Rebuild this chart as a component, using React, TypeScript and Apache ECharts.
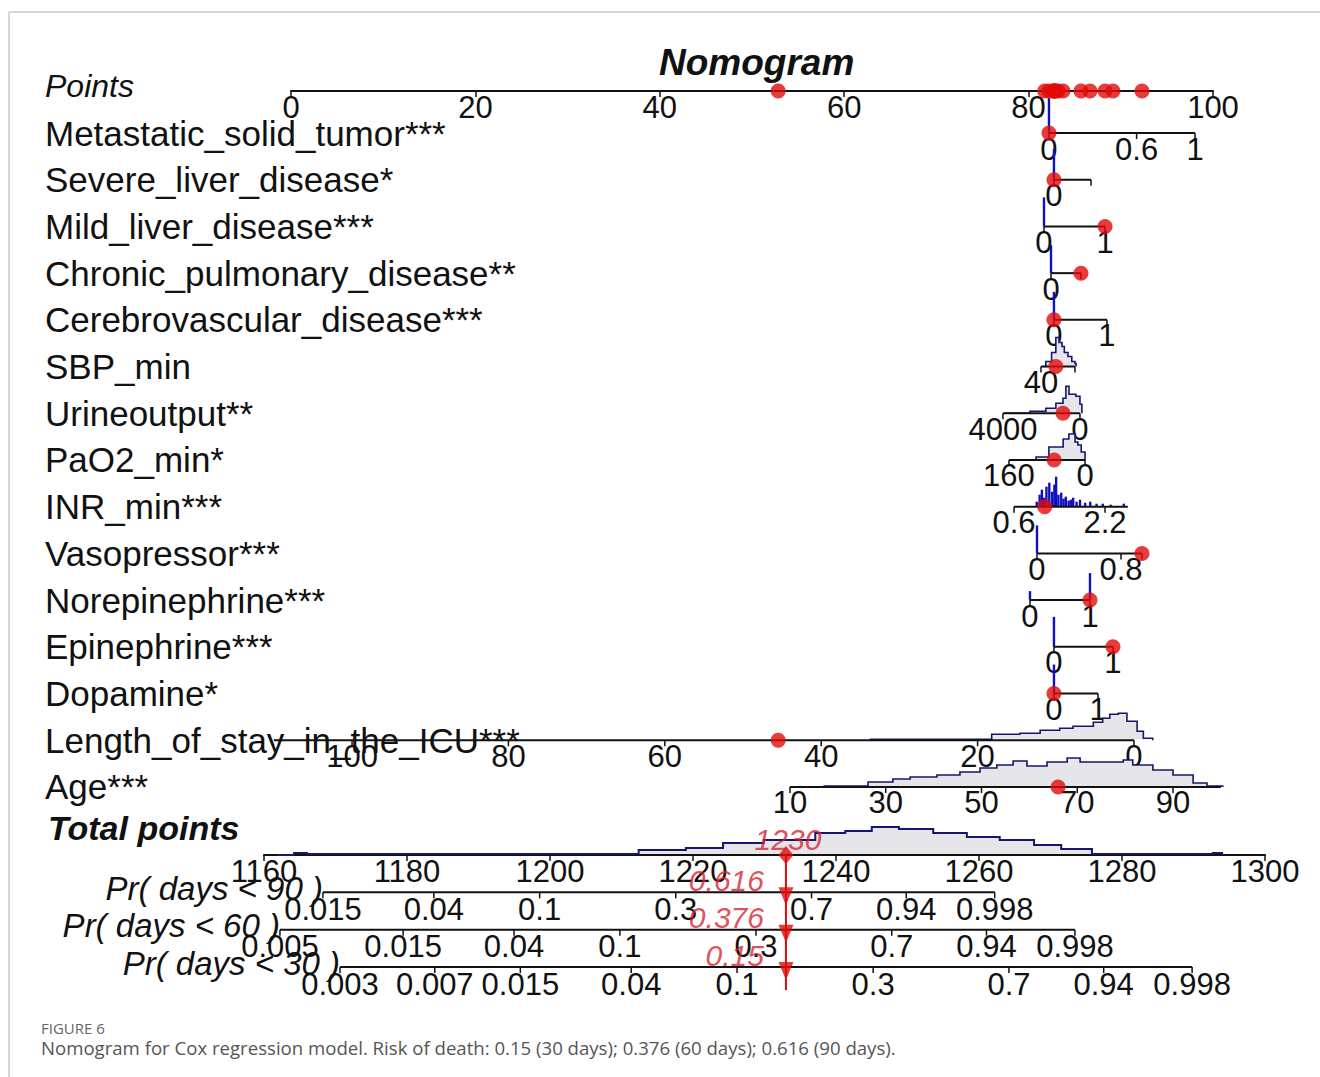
import React, { useEffect, useRef } from "react";
import * as echarts from "echarts";

const FONT = '"Liberation Sans", Arial, Helvetica, sans-serif';
const CAPTION_FONT = '"Open Sans", "Noto Sans", sans-serif';

// ---------------- Data ----------------
const variableLabels = [
  "Metastatic_solid_tumor***",
  "Severe_liver_disease*",
  "Mild_liver_disease***",
  "Chronic_pulmonary_disease**",
  "Cerebrovascular_disease***",
  "SBP_min",
  "Urineoutput**",
  "PaO2_min*",
  "INR_min***",
  "Vasopressor***",
  "Norepinephrine***",
  "Epinephrine***",
  "Dopamine*",
  "Length_of_stay_in_the_ICU***",
  "Age***",
];

// two anchor values for every predictor and the points each one scores
const anchorValueA = [0, 0, 0, 0, 0, 40, 4000, 160, 0.6, 0, 0, 0, 0, 0, 10];
const anchorPointsA = [82.21, 82.75, 81.67, 82.43, 82.75, 81.34, 77.22, 77.87, 78.42, 80.91, 80.15, 82.75, 82.75, 91.43, 54.12];
const anchorValueB = [1, 1, 1, 1, 1, 200, 0, 0, 2.2, 1, 1, 1, 1, 100, 90];
const anchorPointsB = [98.05, 86.77, 88.29, 85.68, 88.5, 85.03, 85.57, 86.12, 88.29, 92.3, 86.66, 89.15, 87.53, 6.62, 95.66];

const valueRangeMin = [0, 0, 0, 0, 0, 40, 0, 0, 0.6, 0, 0, 0, 0, 0, 10];
const valueRangeMax = [1, 1, 1, 1, 1, 200, 4000, 160, 2.6, 1, 1, 1, 1, 110, 100];

const tickValues = [
  [0, 0.6, 1], [0, 1], [0, 1], [0, 1], [0, 1], [40, 200], [4000, 0], [160, 0],
  [0.6, 2.2], [0, 0.8, 1], [0, 1], [0, 1], [0, 1], [100, 80, 60, 40, 20, 0], [10, 30, 50, 70, 90],
];
const tickLabels = [
  ["0", "0.6", "1"], ["0", ""], ["0", "1"], ["0", ""], ["0", "1"], ["40", ""], ["4000", "0"], ["160", "0"],
  ["0.6", "2.2"], ["0", "0.8", ""], ["0", "1"], ["0", "1"], ["0", "1"],
  ["100", "80", "60", "40", "20", "0"], ["10", "30", "50", "70", "90"],
];

// the patient shown by the red dots
const patientValues = [0, 0, 1, 1, 0, 110, 880, 65, 1.14, 1, 1, 1, 0, 45.5, 66];

// distribution of each predictor: [value, relative frequency]
const spikeDensity: Record<number, number[][]> = {
  0: [[0, 35]],
  1: [[0, 31]],
  2: [[0, 29]],
  3: [[0, 28]],
  4: [[0, 28]],
  8: [
    [1.0, 5], [1.05, 12], [1.09, 17], [1.13, 9], [1.17, 20], [1.22, 24], [1.27, 15], [1.31, 22],
    [1.34, 30], [1.38, 12], [1.43, 14], [1.47, 8], [1.51, 10], [1.56, 6], [1.6, 7], [1.64, 9],
    [1.7, 5], [1.76, 7], [1.85, 4], [1.94, 5], [2.05, 3], [2.16, 3], [2.3, 2], [2.53, 3],
  ],
  9: [[0, 28]],
  10: [[0, 9], [1, 27]],
  11: [[0, 30]],
  12: [[0, 29]],
};
const areaDensity: Record<number, number[][]> = {
  5: [[52, 0], [63, 5], [90, 14], [110, 29], [125, 24], [139, 20], [150, 14], [167, 10], [185, 5], [200, 3], [205, 0]],
  6: [[3900, 0], [2600, 2], [1770, 5], [1250, 10], [880, 15], [730, 27], [570, 19], [210, 17], [0, 9], [-100, 0]],
  7: [[154, 0], [103, 3], [76, 13], [46, 21], [34, 26], [21, 18], [15, 15], [8, 8], [0, 0]],
  13: [
    [33.8, 1], [18.2, 6], [14.6, 7], [12, 10], [9.5, 12], [7.8, 14], [5.2, 18], [4, 22], [3.1, 26],
    [2, 27], [0.9, 19], [-0.4, 9], [-1.2, 2], [-2.4, 0],
  ],
  14: [
    [17, 1], [26.3, 5], [31.5, 8], [35.1, 10], [40.7, 12], [45.5, 15], [49.7, 19], [53.2, 22], [56.6, 26],
    [59.5, 21], [63.7, 25], [67.9, 29], [70.6, 25], [74.8, 25], [79.6, 27], [81.6, 22], [85.8, 17],
    [90, 12], [94.2, 4], [97.1, 1], [100.4, 0],
  ],
};
const totalPointsDensity = [
  [1162, 0], [1164.2, 2], [1166, 1], [1171.7, 1], [1212.4, 5], [1219, 7], [1224.2, 12], [1229.9, 15],
  [1237.1, 22], [1241.3, 24], [1245, 28], [1248.8, 26], [1253.6, 22], [1258.3, 18], [1262.9, 15],
  [1267.7, 10], [1271.5, 6], [1275.8, 1], [1290.5, 1], [1292.7, 2], [1294, 0],
];

// survival probability scales: Pr(death before day N)
const prHorizons = ["90", "60", "30"];
const prTicks = [
  [0.015, 0.04, 0.1, 0.3, 0.7, 0.94, 0.998],
  [0.005, 0.015, 0.04, 0.1, 0.3, 0.7, 0.94, 0.998],
  [0.003, 0.007, 0.015, 0.04, 0.1, 0.3, 0.7, 0.94, 0.998],
];
const prCenterPoints = [1233.68, 1244.9, 1261.29]; // total points where log(-log(1-p)) = 0
const prPointsPerUnit = 15.61;

const patientTotalPoints = 1233;
const patientRisks = [0.616, 0.376, 0.15];

// ---------------- Helpers ----------------
const toPoints = (i: number, v: number) =>
  anchorPointsA[i] + ((v - anchorValueA[i]) * (anchorPointsB[i] - anchorPointsA[i])) / (anchorValueB[i] - anchorValueA[i]);
const prToTotal = (k: number, p: number) => prCenterPoints[k] + prPointsPerUnit * Math.log(-Math.log(1 - p));

const stairs = (d: number[][]) => {
  const out: number[][] = [];
  for (let k = 0; k < d.length; k++) {
    out.push([d[k][0], d[k][1]]);
    if (k < d.length - 1) out.push([d[k + 1][0], d[k][1]]);
  }
  return out;
};

const INK = "#111";
const RED = "#e20a0a";
const RED_TEXT = "rgba(214,36,48,0.8)";
const DENS_FILL = "#e6e6ea";
const DENS_LINE = "#16166e";
const SPIKE = "#1010c0";
const TICK_LEN = 6;
const LABEL_DY = 16;
const TICK_FONT = 31;

function buildOption() {
  const rowsRender = (params: any, api: any) => {
    const i = params.dataIndex;
    const row = i + 1;
    const P = (v: number, dy = 0) => {
      const c = api.coord([toPoints(i, v), row]);
      return [c[0], c[1] - dy];
    };
    const children: any[] = [];
    const area = areaDensity[i];
    if (area) {
      const st = stairs(area);
      const top = st.map(([v, h]) => P(v, h));
      const poly = [P(area[0][0], 1), ...top, P(area[area.length - 1][0], 1)];
      children.push({ type: "polygon", shape: { points: poly }, style: { fill: DENS_FILL } });
      children.push({ type: "polyline", shape: { points: top }, style: { stroke: DENS_LINE, lineWidth: 1.6, fill: "none" } });
    }
    const spikes = spikeDensity[i];
    if (spikes) {
      spikes.forEach(([v, h]) => {
        const a = P(v, 0);
        const b = P(v, h);
        children.push({ type: "line", shape: { x1: a[0], y1: a[1], x2: b[0], y2: b[1] }, style: { stroke: SPIKE, lineWidth: 2.4 } });
      });
    }
    const s = P(valueRangeMin[i]);
    const e = P(valueRangeMax[i]);
    children.push({ type: "line", shape: { x1: s[0], y1: s[1], x2: e[0], y2: e[1] }, style: { stroke: INK, lineWidth: 2 } });
    tickValues[i].forEach((v, k) => {
      const a = P(v);
      children.push({ type: "line", shape: { x1: a[0], y1: a[1], x2: a[0], y2: a[1] + TICK_LEN }, style: { stroke: INK, lineWidth: 1.5 } });
      const lab = tickLabels[i][k];
      if (lab) {
        children.push({
          type: "text",
          x: a[0],
          y: a[1] + LABEL_DY,
          style: { text: lab, fill: INK, fontSize: TICK_FONT, fontFamily: FONT, align: "center", verticalAlign: "middle" },
        });
      }
    });
    return { type: "group", children };
  };

  const prRender = (params: any, api: any) => {
    const k = params.dataIndex;
    const row = k + 1;
    const ticks = prTicks[k];
    const P = (p: number) => api.coord([prToTotal(k, p), row]);
    const children: any[] = [];
    const s = P(ticks[0]);
    const e = P(ticks[ticks.length - 1]);
    children.push({ type: "line", shape: { x1: s[0], y1: s[1], x2: e[0], y2: e[1] }, style: { stroke: INK, lineWidth: 2 } });
    ticks.forEach((p) => {
      const a = P(p);
      children.push({ type: "line", shape: { x1: a[0], y1: a[1], x2: a[0], y2: a[1] + TICK_LEN }, style: { stroke: INK, lineWidth: 1.5 } });
      children.push({
        type: "text",
        x: a[0],
        y: a[1] + LABEL_DY + 1,
        style: { text: String(p), fill: INK, fontSize: TICK_FONT, fontFamily: FONT, align: "center", verticalAlign: "middle" },
      });
    });
    children.push({
      type: "text",
      x: s[0],
      y: s[1] - 4,
      style: {
        text: "Pr( days < " + prHorizons[k] + " )",
        fill: INK,
        fontSize: 33,
        fontStyle: "italic",
        fontFamily: FONT,
        align: "right",
        verticalAlign: "middle",
      },
    });
    return { type: "group", children };
  };

  const totalDensityRender = (params: any, api: any) => {
    const P = (v: number, dy = 0) => {
      const c = api.coord([v, 0]);
      return [c[0], c[1] - dy];
    };
    const d = totalPointsDensity;
    const top = stairs(d).map(([v, h]) => P(v, h));
    const poly = [P(d[0][0], 1), ...top, P(d[d.length - 1][0], 1)];
    return {
      type: "group",
      children: [
        { type: "polygon", shape: { points: poly }, style: { fill: DENS_FILL } },
        { type: "polyline", shape: { points: top }, style: { stroke: DENS_LINE, lineWidth: 2, fill: "none" } },
      ],
    };
  };

  const redTextRender = (params: any, api: any) => {
    const children: any[] = [];
    const t = api.coord([patientTotalPoints, 0]);
    children.push({
      type: "text",
      x: t[0] + 2,
      y: t[1] - 16,
      style: {
        text: String(Number(patientTotalPoints.toPrecision(3))),
        fill: RED_TEXT,
        fontSize: 30,
        fontStyle: "italic",
        fontFamily: FONT,
        align: "center",
        verticalAlign: "middle",
      },
    });
    patientRisks.forEach((r, k) => {
      const c = api.coord([patientTotalPoints, k + 1]);
      children.push({
        type: "text",
        x: c[0] - 22,
        y: c[1] - 12,
        style: { text: String(r), fill: RED_TEXT, fontSize: 30, fontStyle: "italic", fontFamily: FONT, align: "right", verticalAlign: "middle" },
      });
    });
    return { type: "group", children };
  };

  const axisCommon = {
    type: "value" as const,
    position: "top" as const,
    axisLine: { onZero: false, lineStyle: { color: INK, width: 2 } },
    axisTick: { inside: true, length: TICK_LEN, lineStyle: { color: INK, width: 1.5 } },
    axisLabel: {
      inside: true,
      margin: 1,
      fontSize: TICK_FONT,
      color: INK,
      fontFamily: FONT,
      verticalAlign: "top" as const,
      formatter: (v: number) => String(v),
    },
    splitLine: { show: false },
  };

  const variableDots = patientValues.map((v, i) => [toPoints(i, v), i + 1]);
  const pointsRowDots = patientValues.map((v, i) => [toPoints(i, v), 0.1]);

  return {
    animation: false,
    backgroundColor: "#ffffff",
    textStyle: { fontFamily: FONT },
    title: [
      {
        text: "Nomogram",
        left: 659,
        top: 44,
        padding: 0,
        textStyle: { fontFamily: FONT, fontSize: 37, fontWeight: "bold", fontStyle: "italic", color: INK },
      },
      {
        text: "Total points",
        left: 48,
        top: 811,
        padding: 0,
        textStyle: { fontFamily: FONT, fontSize: 34, fontWeight: "bold", fontStyle: "italic", color: INK },
      },
      {
        text: "FIGURE 6",
        left: 41,
        top: 1020,
        padding: 0,
        textStyle: { fontFamily: CAPTION_FONT, fontSize: 15, fontWeight: "normal", color: "#666" },
      },
      {
        text: "Nomogram for Cox regression model. Risk of death: 0.15 (30 days); 0.376 (60 days); 0.616 (90 days).",
        left: 41,
        top: 1038,
        padding: 0,
        textStyle: { fontFamily: CAPTION_FONT, fontSize: 18.6, fontWeight: "normal", color: "#555" },
      },
    ],
    graphic: [
      { type: "line", shape: { x1: 9, y1: 12, x2: 1320, y2: 12 }, style: { stroke: "#d6d6d6", lineWidth: 2 } },
      { type: "line", shape: { x1: 9, y1: 12, x2: 9, y2: 1077 }, style: { stroke: "#d6d6d6", lineWidth: 2 } },
    ],
    grid: [
      { left: 291, top: 86.3, width: 922, height: 700.65 },
      { left: 264, top: 855, width: 1001, height: 112 },
    ],
    xAxis: [
      { ...axisCommon, gridIndex: 0, min: 0, max: 100, interval: 20, offset: -4.67 },
      { ...axisCommon, gridIndex: 1, min: 1160, max: 1300, interval: 20 },
    ],
    yAxis: [
      { gridIndex: 0, type: "value", min: 0, max: 15, inverse: true, show: false },
      {
        gridIndex: 0,
        type: "category",
        position: "left",
        data: ["Points", ...variableLabels],
        inverse: true,
        boundaryGap: false,
        axisLine: { show: false },
        axisTick: { show: false },
        splitLine: { show: false },
        axisLabel: {
          interval: 0,
          align: "left",
          margin: 246,
          fontSize: 35,
          color: INK,
          fontFamily: FONT,
          formatter: (value: string, index: number) => (index === 0 ? "{pt|" + value + "}" : value),
          rich: { pt: { fontStyle: "italic", fontSize: 32, fontFamily: FONT, color: INK } },
        },
      },
      { gridIndex: 1, type: "value", min: 0, max: 3, inverse: true, show: false },
    ],
    series: [
      {
        type: "custom",
        name: "scales",
        xAxisIndex: 0,
        yAxisIndex: 0,
        clip: false,
        encode: { x: 0, y: 1 },
        data: variableLabels.map((_, i) => [toPoints(i, valueRangeMin[i]), i + 1]),
        renderItem: rowsRender,
        z: 3,
      },
      {
        type: "custom",
        name: "total density",
        xAxisIndex: 1,
        yAxisIndex: 2,
        clip: false,
        encode: { x: 0, y: 1 },
        data: [[totalPointsDensity[0][0], 0]],
        renderItem: totalDensityRender,
        z: 1,
      },
      {
        type: "custom",
        name: "probability scales",
        xAxisIndex: 1,
        yAxisIndex: 2,
        clip: false,
        encode: { x: 0, y: 1 },
        data: prTicks.map((t, k) => [prToTotal(k, t[0]), k + 1]),
        renderItem: prRender,
        z: 3,
      },
      {
        type: "line",
        name: "patient total",
        xAxisIndex: 1,
        yAxisIndex: 2,
        clip: false,
        symbol: "none",
        data: [
          [patientTotalPoints, 0],
          [patientTotalPoints, 3.62],
        ],
        lineStyle: { color: RED, width: 2 },
        z: 5,
      },
      {
        type: "scatter",
        name: "arrows",
        xAxisIndex: 1,
        yAxisIndex: 2,
        clip: false,
        symbol: "triangle",
        symbolRotate: 180,
        symbolSize: [15, 18],
        symbolOffset: [0, 4],
        itemStyle: { color: RED },
        data: patientRisks.map((_, k) => [patientTotalPoints, k + 1]),
        z: 6,
      },
      {
        type: "scatter",
        name: "total marker",
        xAxisIndex: 1,
        yAxisIndex: 2,
        clip: false,
        symbol: "diamond",
        symbolSize: [15, 18],
        itemStyle: { color: RED },
        data: [[patientTotalPoints, 0]],
        z: 6,
      },
      {
        type: "custom",
        name: "risk labels",
        xAxisIndex: 1,
        yAxisIndex: 2,
        clip: false,
        encode: { x: 0, y: 1 },
        data: [[patientTotalPoints, 0]],
        renderItem: redTextRender,
        z: 7,
      },
      {
        type: "scatter",
        name: "patient",
        xAxisIndex: 0,
        yAxisIndex: 0,
        clip: false,
        symbol: "circle",
        symbolSize: 15,
        itemStyle: { color: RED },
        data: [...variableDots, ...pointsRowDots],
        z: 8,
      },
    ],
  };
}

export default function App() {
  const ref = useRef<HTMLDivElement>(null);
  useEffect(() => {
    document.body.style.margin = "0";
    if (!ref.current) return;
    const chart = echarts.init(ref.current, null, { renderer: "svg" });
    chart.setOption(buildOption() as any);
    return () => chart.dispose();
  }, []);
  return <div ref={ref} style={{ width: 1320, height: 1077 }} />;
}
